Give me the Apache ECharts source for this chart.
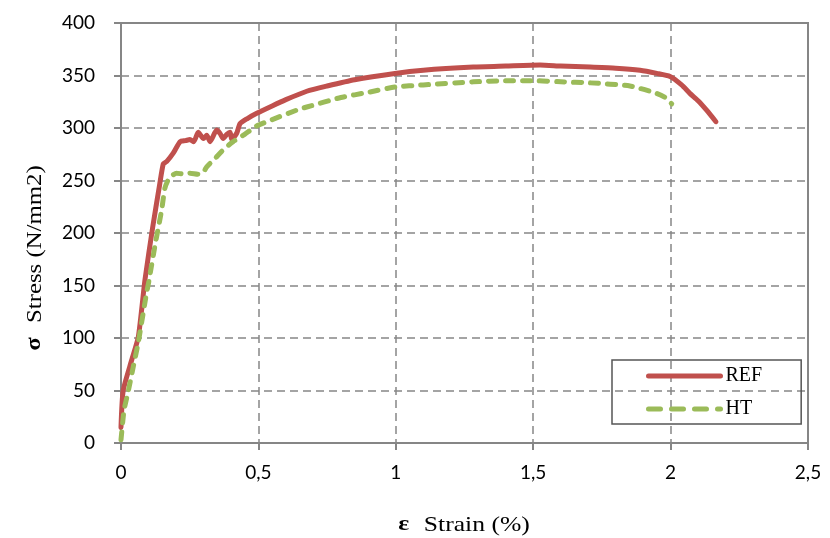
<!DOCTYPE html>
<html>
<head>
<meta charset="utf-8">
<script src="https://cdn.jsdelivr.net/npm/echarts@6/dist/echarts.min.js"></script>
<style>
  html, body { margin: 0; padding: 0; background: #fff; }
  #chart { width: 830px; height: 538px; }
</style>
</head>
<body>
<div id="chart"></div>
<script>
// Stress–strain curves: strain in %, stress in N/mm2
const seriesNames = ['REF', 'HT'];

const refCurve = [
  [0, 15], [0.008, 50], [0.039, 79], [0.063, 101], [0.087, 155], [0.115, 205],
  [0.14, 245], [0.154, 266], [0.166, 268], [0.19, 276], [0.215, 287], [0.235, 288],
  [0.251, 289], [0.265, 287], [0.281, 296], [0.30, 290], [0.312, 293], [0.324, 287],
  [0.348, 298], [0.36, 295], [0.372, 290], [0.385, 294], [0.397, 296], [0.403, 289],
  [0.421, 295], [0.433, 304], [0.46, 309], [0.494, 314], [0.55, 321], [0.6, 327],
  [0.676, 335], [0.75, 340], [0.85, 346], [0.997, 352], [1.1, 355], [1.282, 358],
  [1.4, 359], [1.525, 360], [1.6, 359], [1.707, 358], [1.8, 357], [1.889, 355],
  [1.95, 352], [1.998, 349], [2.04, 341], [2.07, 333], [2.1, 326], [2.131, 317],
  [2.165, 306]
];

const htCurve = [
  [0, 3], [0.011, 31], [0.027, 50], [0.045, 73], [0.063, 96], [0.093, 143],
  [0.1, 152], [0.125, 190], [0.148, 222], [0.16, 243], [0.175, 252], [0.202, 257],
  [0.23, 256], [0.251, 257], [0.28, 256], [0.30, 258], [0.312, 263], [0.342, 271],
  [0.375, 280], [0.408, 287], [0.45, 294], [0.494, 302], [0.55, 308], [0.639, 317],
  [0.676, 320], [0.8, 329], [0.9, 334], [0.997, 339], [1.1, 341], [1.282, 344],
  [1.4, 345], [1.513, 345], [1.6, 344], [1.707, 343], [1.852, 340], [1.949, 333],
  [1.98, 329], [2.004, 323]
];

const xTicks = { min: 0, max: 2.5, step: 0.5 };
const yTicks = { min: 0, max: 400, step: 50 };

const axisGrey = '#868686';
const labelFont = 'Lato, "Open Sans", sans-serif';
const titleFont = '"Liberation Serif", "DejaVu Serif", serif';

const titleRich = {
  g: { fontFamily: titleFont, fontSize: 21, fontWeight: 'bold', fill: '#000', padding: [0, 12, 0, 0] },
  t: { fontFamily: titleFont, fontSize: 21, fill: '#000' }
};

const chart = echarts.init(document.getElementById('chart'), null, { renderer: 'canvas' });

chart.setOption({
  animation: false,
  backgroundColor: '#ffffff',
  grid: {
    left: 121, right: 22, top: 23, bottom: 95,
    show: true, borderColor: axisGrey, borderWidth: 2, backgroundColor: 'transparent'
  },
  xAxis: {
    type: 'value',
    min: xTicks.min, max: xTicks.max, interval: xTicks.step,
    axisLine: { show: true, lineStyle: { color: axisGrey, width: 2 } },
    axisTick: { show: true, inside: false, length: 7, lineStyle: { color: axisGrey, width: 2 } },
    axisLabel: {
      margin: 20, color: '#000', fontFamily: labelFont, fontSize: 19,
      formatter: v => String(v).replace('.', ',')
    },
    splitLine: { show: true, lineStyle: { color: axisGrey, width: 1.5, type: [8, 5] } }
  },
  yAxis: {
    type: 'value',
    min: yTicks.min, max: yTicks.max, interval: yTicks.step,
    axisLine: { show: true, lineStyle: { color: axisGrey, width: 2 } },
    axisTick: { show: true, inside: false, length: 7, lineStyle: { color: axisGrey, width: 2 } },
    axisLabel: { margin: 26, color: '#000', fontFamily: labelFont, fontSize: 19 },
    splitLine: { show: true, lineStyle: { color: axisGrey, width: 1.5, type: [8, 5] } }
  },
  legend: {
    orient: 'vertical',
    left: 612, top: 360,
    data: [
      { name: seriesNames[0] },
      { name: seriesNames[1], lineStyle: { type: [12, 11] } }
    ],
    itemWidth: 72, itemHeight: 14, itemGap: 13, itemTextGap: 5,
    padding: [6, 39, 5, 34],
    borderColor: '#555', borderWidth: 1.5,
    itemStyle: { opacity: 0 },
    lineStyle: { width: 5, cap: 'round' },
    textStyle: { fontFamily: titleFont, fontSize: 20, color: '#000' }
  },
  graphic: [
    {
      type: 'text', x: 464, y: 525, scaleX: 1.22,
      style: {
        text: '{g|ε}{t|Strain (%)}',
        align: 'center', verticalAlign: 'middle',
        rich: titleRich
      }
    },
    {
      type: 'text', x: 35, y: 258, rotation: Math.PI / 2, scaleX: 1.18,
      style: {
        text: '{g|σ}{t|Stress (N/mm2)}',
        align: 'center', verticalAlign: 'middle',
        rich: titleRich
      }
    }
  ],
  series: [
    {
      name: seriesNames[0], type: 'line', data: refCurve,
      symbol: 'none', smooth: 0.2, z: 3,
      lineStyle: { color: '#C0504D', width: 5, cap: 'round', join: 'round' },
      itemStyle: { color: '#C0504D' }
    },
    {
      name: seriesNames[1], type: 'line', data: htCurve,
      symbol: 'none', smooth: 0.2, z: 4,
      lineStyle: { color: '#9BBB59', width: 5, type: [8, 9], cap: 'round', join: 'round' },
      itemStyle: { color: '#9BBB59' }
    }
  ]
});
</script>
</body>
</html>
